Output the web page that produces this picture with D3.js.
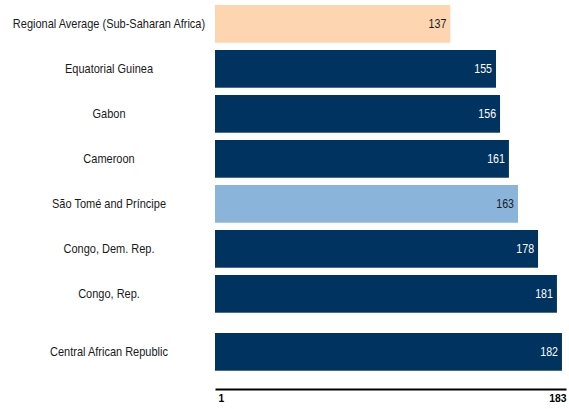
<!DOCTYPE html>
<html>
<head>
<meta charset="utf-8">
<script src="https://cdn.jsdelivr.net/npm/d3@7"></script>
<style>
  body { margin: 0; background: #fff; }
  svg { display: block; }
</style>
</head>
<body>
<div id="chart"></div>
<script>
// Chart data
var countries = ["Regional Average (Sub-Saharan Africa)", "Equatorial Guinea", "Gabon", "Cameroon",
    "São Tomé and Príncipe", "Congo, Dem. Rep.", "Congo, Rep.", "Central African Republic"];
var ranks = [137, 155, 156, 161, 163, 178, 181, 182];
// bar length on the 1..183 axis
var barValues = [123, 146.7, 148.8, 153.4, 158.1, 168.5, 178.3, 180.9];
var axisTicks = [1, 183];

var w = 569;
var h = 409;
var left = 215;
var right = 566;
var lastGap = 13; // extra space before the last row
var narrow = 0.88; // squeeze text horizontally, no narrow font installed

var colors = {
    "Regional Average (Sub-Saharan Africa)": "#fdd5b1",
    "São Tomé and Príncipe": "#8ab4da"
};

var xScale = d3.scaleLinear()
    .domain([1, 183])
    .range([left, right]);

var yScale = d3.scaleBand()
    .domain(countries)
    .range([5, 5 + 45 * (8 - 0.162)])
    .paddingInner(0.162)
    .paddingOuter(0);

function rowY(d, i) {
    return yScale(d) + (i === countries.length - 1 ? lastGap : 0);
}
function midY(d, i) {
    return rowY(d, i) + yScale.bandwidth() / 2;
}

var svg = d3.select("#chart")
    .append("svg")
    .attr("width", w)
    .attr("height", h)
    .style("font-family", "'Liberation Sans', Arial, sans-serif");

// Bars
svg.selectAll("rect.bar")
    .data(countries)
    .enter()
    .append("rect")
    .attr("class", "bar")
    .attr("x", xScale(1))
    .attr("y", rowY)
    .attr("width", function (d, i) { return xScale(barValues[i]) - xScale(1); })
    .attr("height", yScale.bandwidth())
    .attr("fill", function (d) { return colors[d] || "#003360"; });

// Category labels
svg.selectAll("text.cat")
    .data(countries)
    .enter()
    .append("text")
    .attr("class", "cat")
    .attr("transform", function (d, i) {
        return "translate(109," + midY(d, i) + ") scale(" + narrow + ",1)";
    })
    .attr("dy", "0.35em")
    .attr("text-anchor", "middle")
    .attr("font-size", 12.5)
    .attr("fill", "#1a1a1a")
    .text(function (d) { return d; });

// Value labels inside bars
svg.selectAll("text.val")
    .data(countries)
    .enter()
    .append("text")
    .attr("class", "val")
    .attr("transform", function (d, i) {
        return "translate(" + (xScale(barValues[i]) - 4) + "," + midY(d, i) + ") scale(0.85,1)";
    })
    .attr("dy", "0.35em")
    .attr("text-anchor", "end")
    .attr("font-size", 12.5)
    .attr("fill", function (d) { return colors[d] ? "#1a1a1a" : "#ffffff"; })
    .text(function (d, i) { return ranks[i]; });

// Axis
var xAxis = d3.axisBottom(xScale)
    .tickValues(axisTicks)
    .tickSize(0)
    .tickPadding(5)
    .tickFormat(d3.format("d"));

var axisG = svg.append("g")
    .attr("transform", "translate(0,389)")
    .call(xAxis);

axisG.select(".domain")
    .attr("stroke", "#000")
    .attr("stroke-width", 2);

axisG.selectAll(".tick text")
    .attr("font-size", 11.5)
    .attr("font-weight", "bold")
    .attr("font-family", "'Liberation Sans', Arial, sans-serif")
    .attr("fill", "#000")
    .attr("text-anchor", function (d, i) { return i === 0 ? "start" : "end"; })
    .attr("transform", function (d, i) {
        return "translate(" + (i === 0 ? 3 : 0) + ",0) scale(0.9,1)";
    });
</script>
</body>
</html>
